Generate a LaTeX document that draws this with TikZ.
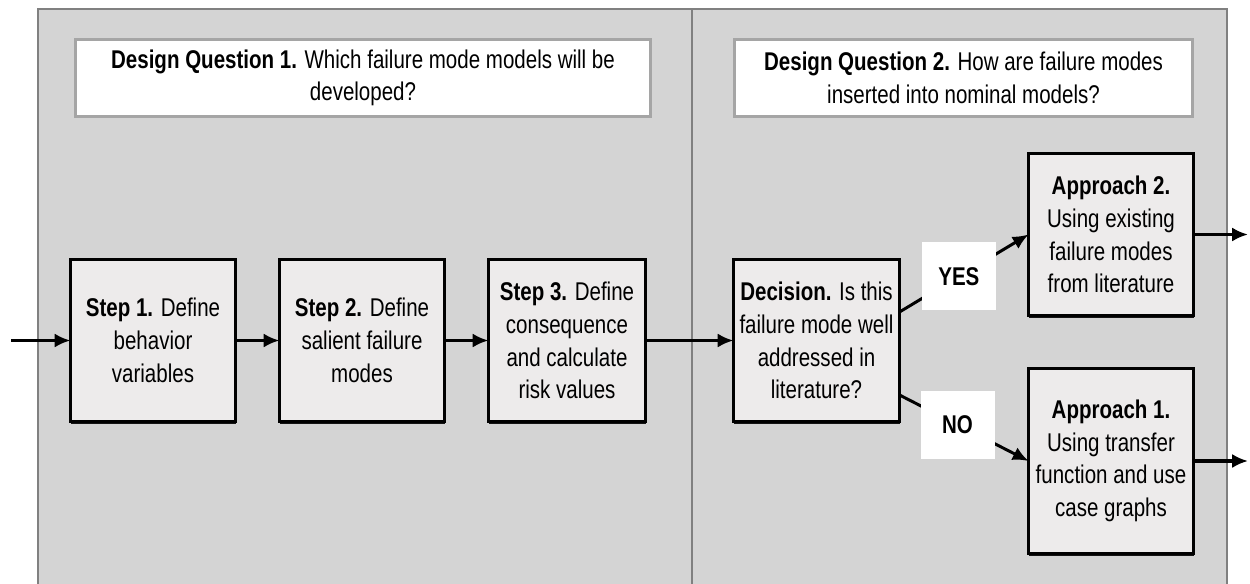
\documentclass[tikz,border=0pt]{standalone}
\usepackage{fontspec}
\setmainfont{Liberation Sans}[FakeStretch=0.8]
\usetikzlibrary{shapes, arrows.meta, calc, shadows}
\definecolor{panelGray}{RGB}{212,212,212}
\definecolor{boxGray}{RGB}{237,235,235}
\definecolor{frameGray}{RGB}{165,165,165}
\newcommand*{\xLeft}{38}
\newcommand*{\xDivide}{692}
\newcommand*{\xRight}{1227}
\newcommand*{\yTop}{9}
\newcommand*{\yRow}{340.5}

\begin{document}
\begin{tikzpicture}[x=0.02cm, y=-0.02cm, every node/.style={font=\fontsize{14.6}{18.6}\selectfont, align=center, inner sep=0pt, outer sep=0pt},
	stepBox/.style={draw=black, line width=2pt, fill=boxGray, minimum width=3.3cm, minimum height=3.24cm, drop shadow={shadow xshift=0.3pt, shadow yshift=-1.3pt, fill=black, opacity=0.9}},
	questionBox/.style={draw=frameGray, line width=2.2pt, fill=white, minimum height=1.54cm},
	answerBox/.style={fill=white, minimum width=1.48cm, minimum height=1.36cm},
	flowArrow/.style={draw, line width=2.2pt, -{Latex[length=9pt, width=8pt]}}]
	\useasboundingbox (0,0) rectangle (1250,584);
% panels
	\draw[draw=gray, line width=0.8pt, fill=panelGray] (\xLeft,\yTop) rectangle (\xDivide,600);
	\draw[draw=gray, line width=0.8pt, fill=panelGray] (\xDivide,\yTop) rectangle (\xRight,600);
	\node[questionBox, minimum width=11.5cm] (question_1) at (363,78) {\textbf{Design Question 1.} Which failure mode models will be\\developed?};
	\node[questionBox, minimum width=9.16cm] (question_2) at (963.5,78) {\textbf{Design Question 2.} How are failure modes\\inserted into nominal models?};
% steps
	\node[stepBox] (step_1) at (153,\yRow) {\textbf{Step 1.} Define\\behavior\\variables};
	\node[stepBox] (step_2) at (362,\yRow) {\textbf{Step 2.} Define\\salient failure\\modes};
	\node[stepBox, minimum width=3.14cm] (step_3) at (567,\yRow) {\textbf{Step 3.} Define\\consequence\\and calculate\\risk values};
	\node[stepBox, minimum width=3.32cm] (decision) at (816.5,\yRow) {\textbf{Decision.} Is this\\failure mode well\\addressed in\\literature?};
	\node[stepBox] (approach_2) at (1111,234.5) {\textbf{Approach 2.}\\Using existing\\failure modes\\from literature};
	\node[stepBox, minimum height=3.7cm] (approach_1) at (1111,461) {\textbf{Approach 1.}\\Using transfer\\function and use\\case graphs};
	\coordinate (start) at (11,\yRow);
	\coordinate (end_2) at (1248,234.5);
	\coordinate (end_1) at (1248,461);
	\path[flowArrow] (start) -- (step_1);
	\path[flowArrow] (step_1) -- (step_2);
	\path[flowArrow] (step_2) -- (step_3);
	\path[flowArrow] (step_3) -- (decision);
	\path[flowArrow, line width=1.7pt] ($(decision.east)+(0,-28.5)$) -- node[answerBox, pos=0.46] (yes) {\bfseries YES} (approach_2.west);
	\path[flowArrow, line width=1.7pt] ($(decision.east)+(0,54.5)$) -- node[answerBox, pos=0.45] (no) {\bfseries NO} (approach_1.west);
	\path[flowArrow] (approach_2) -- (end_2);
	\path[flowArrow] (approach_1) -- (end_1);
\end{tikzpicture}
\end{document}
